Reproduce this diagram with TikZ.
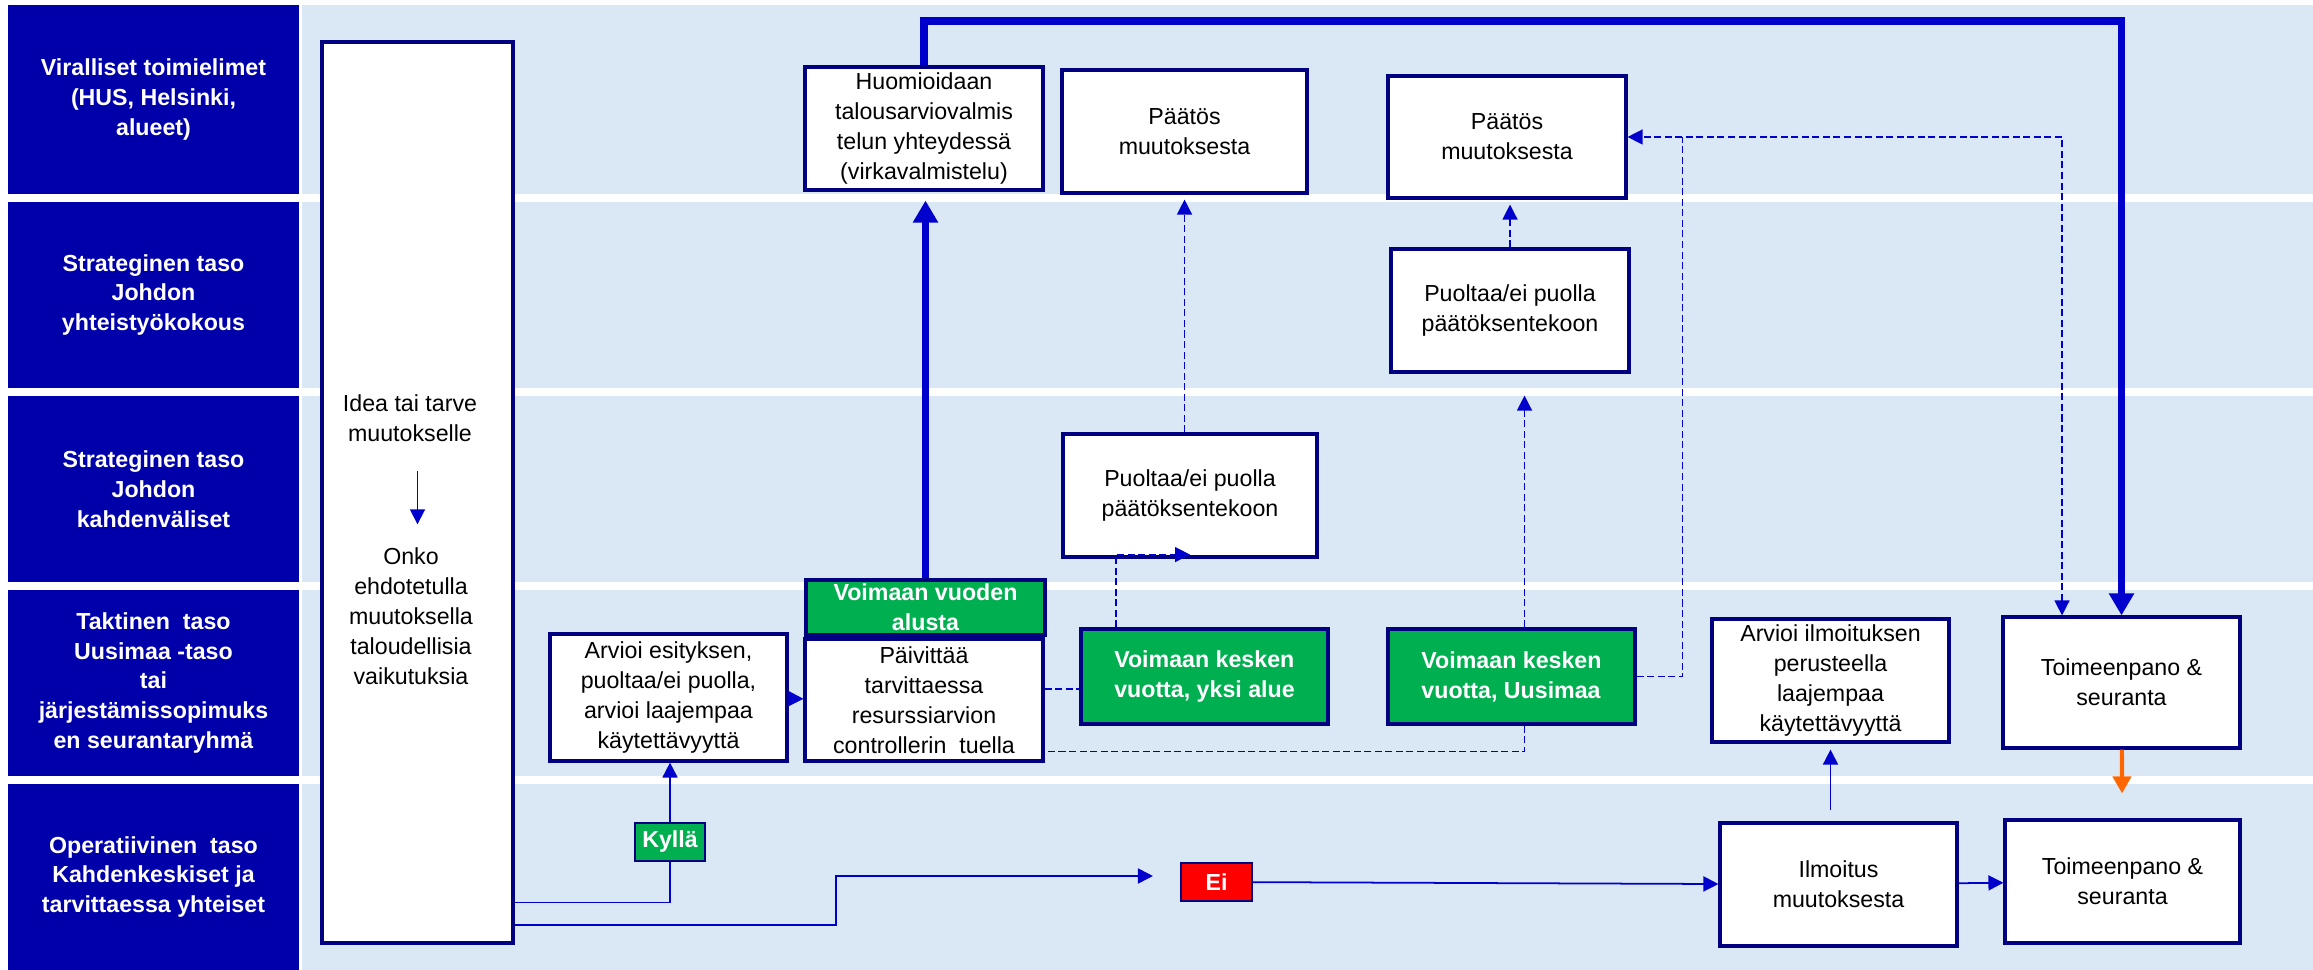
\documentclass[tikz,border=0pt]{standalone}
\usepackage{fontspec}
\setmainfont{Liberation Sans}
\usetikzlibrary{arrows.meta,positioning}
\definecolor{lanelabel}{HTML}{0000AA}
\definecolor{lanefill}{HTML}{DAE8F6}
\definecolor{boxline}{HTML}{000080}
\definecolor{flowblue}{HTML}{0000CC}
\definecolor{boxgreen}{HTML}{00B050}
\definecolor{boxred}{HTML}{FF0000}
\definecolor{floworange}{HTML}{FF6600}
\newcommand\boxfont{\fontsize{6.6}{8.5}\selectfont}
\tikzset
{
    process/.style   = {rectangle, draw=boxline, line width=0.9pt, fill=white, align=center, inner sep=0pt, font=\boxfont, minimum width=23.8mm, minimum height=12.3mm},
    greenbox/.style  = {process, fill=boxgreen, text=white, font=\boxfont\bfseries},
    flagbox/.style   = {process, line width=0.6pt, text=white, font=\boxfont\bfseries, minimum width=7mm, minimum height=3.8mm},
    lanetext/.style  = {text=white, align=center, font=\boxfont\bfseries},
    link/.style      = {draw=flowblue, line width=0.5pt},
    flow/.style      = {link, ->, >={Triangle[length=1.5mm, width=1.5mm]}},
    dashline/.style  = {link, line width=0.4pt, dash pattern=on 2pt off 1pt},
    dashflow/.style  = {flow, line width=0.4pt, dash pattern=on 2pt off 1pt},
    mainflow/.style  = {draw=flowblue, line width=2pt, ->, >={Triangle[length=2.2mm, width=2.4mm]}}
}
\begin{document}
\begin{tikzpicture}[x=0.1mm, y=-0.1mm]
   \useasboundingbox (0,0) rectangle (2313,970);

   \foreach \i/\ya/\yb/\txt in {1/5/194/{Viralliset toimielimet\\(HUS, Helsinki,\\alueet)},
                                2/202/388/{Strateginen taso\\Johdon\\yhteistyökokous},
                                3/396/582/{Strateginen taso\\Johdon\\kahdenväliset},
                                4/590/776/{Taktinen~ taso\\Uusimaa -taso\\tai\\järjestämissopimuks\\en seurantaryhmä},
                                5/784/970/{Operatiivinen~ taso\\Kahdenkeskiset ja\\tarvittaessa yhteiset}}
   {
      \fill[lanefill] (302,\ya) rectangle (2313,\yb);
      \fill[lanelabel] (8,\ya) rectangle (299,\yb);
      \node (lane\i) [lanetext] at (153.5,{(\ya+\yb)/2}) {\txt};
   }

   \node (idea)    [process, minimum width=19.1mm, minimum height=90.1mm] at (417.5,492.5) {};
   \node (ideatxt) [font=\boxfont, align=center] at (410,418) {Idea tai tarve\\muutokselle};
   \node (onko)    [font=\boxfont, align=center] at (411,616) {Onko\\ehdotetulla\\muutoksella\\taloudellisia\\vaikutuksia};

   \node (huom)    [process]                                           at (924,128.5)    {Huomioidaan\\talousarviovalmis\\telun yhteydessä\\(virkavalmistelu)};
   \node (paatos1) [process, minimum width=24.5mm]                     at (1184.5,131.5) {Päätös\\muutoksesta};
   \node (paatos2) [process, minimum height=12.2mm]                    at (1507,137)     {Päätös\\muutoksesta};
   \node (puol2)   [process]                                           at (1510,310.5)   {Puoltaa/ei puolla\\päätöksentekoon};
   \node (puol1)   [process, minimum width=25.4mm]                     at (1190,495.5)   {Puoltaa/ei puolla\\päätöksentekoon};
   \node (alusta)  [greenbox, minimum width=23.9mm, minimum height=5.5mm] at (925.5,607.5) {Voimaan vuoden\\alusta};
   \node (arvioi)  [process, minimum width=23.7mm, minimum height=12.7mm] at (668.5,697.5) {Arvioi esityksen,\\puoltaa/ei puolla,\\arvioi laajempaa\\käytettävyyttä};
   \node (paiv)    [process, minimum height=12.2mm]                    at (924,700)      {Päivittää\\tarvittaessa\\resurssiarvion\\controllerin~ tuella};
   \node (yksi)    [greenbox, align=left, minimum width=24.7mm, minimum height=9.5mm] at (1204.5,676.5) {Voimaan kesken\\vuotta, yksi alue};
   \node (uusimaa) [greenbox, align=left, minimum width=24.7mm, minimum height=9.5mm] at (1511.5,676.5) {Voimaan kesken\\vuotta, Uusimaa};
   \node (arvioi2) [process, minimum width=23.7mm]                     at (1830.5,680.5) {Arvioi ilmoituksen\\perusteella\\laajempaa\\käytettävyyttä};
   \node (toim1)   [process, minimum width=23.7mm, minimum height=13.1mm] at (2121.5,682.5) {Toimeenpano \&\\seuranta};
   \node (ilm)     [process, minimum width=23.7mm]                     at (1838.5,884.5) {Ilmoitus\\muutoksesta};
   \node (toim2)   [process, minimum width=23.5mm]                     at (2122.5,881.5) {Toimeenpano \&\\seuranta};
   \node (kylla)   [flagbox, fill=boxgreen]                            at (670,842)      {Kyllä};
   \node (ei)      [flagbox, fill=boxred, minimum width=7.1mm]         at (1216.5,882)   {Ei};

   \coordinate (eiturn)   at (836,925);
   \coordinate (topline)  at (toim1.north |- 0,21);
   \coordinate (yksiup)   at ([xshift=-8.85mm]yksi.north);
   \coordinate (uuup)     at ([xshift=1.3mm]uusimaa.north);
   \coordinate (uudown)   at ([xshift=1.3mm]uusimaa.south);
   \coordinate (paivmid)  at ([yshift=1.1mm]paiv.east);
   \coordinate (uuright)  at ([xshift=5.5mm]paatos2.east);
   \coordinate (toimdash) at ([xshift=-5.95mm]toim1.north);

   \draw[flow, shorten <=1.7mm, shorten >=1.1mm] (ideatxt.south -| idea.north) -- (onko.north -| idea.north);
   \draw[link] ([yshift=4.2mm]idea.south east) -| (kylla.south);
   \draw[flow] (kylla.north) -- (kylla.north |- arvioi.south);
   \draw[flow, shorten >=2.7mm] (idea.east |- eiturn) -- (eiturn) |- ([yshift=0.6mm]ei.west);
   \draw[flow] (ei) -- (ilm);
   \draw[flow] (ilm) -- (toim2);
   \draw[flow, shorten <=1.1mm, shorten >=0.6mm] (arvioi2.south |- ilm.north) -- (arvioi2.south);
   \draw[flow] (arvioi) -- (paiv);
   \draw[flow, draw=floworange, line width=1.2pt, >={Triangle[length=1.7mm, width=1.8mm]}, shorten >=2.5mm] (toim1) -- (toim2);

   \draw[mainflow, shorten >=0.9mm] (alusta.north) -- (alusta.north |- huom.south);
   \draw[mainflow] (huom.north) |- (topline) -- (toim1.north);

   \draw[dashflow, shorten >=0.5mm] (paatos1.south |- puol1.north) -- (paatos1.south);
   \draw[dashflow, shorten >=0.5mm] (puol2.north) -- (puol2.north |- paatos2.south);
   \draw[dashflow, shorten >=2.2mm] (uuup) -- (uuup |- puol2.south);
   \draw[dashflow] (yksiup) |- ([yshift=0.4mm]puol1.south);
   \draw[dashline] (paivmid) -- (paivmid -| yksi.west);
   \draw[dashline] (uudown) |- ([yshift=1.1mm]paiv.south east);
   \draw[dashline] (uusimaa.east) -| (uuright);
   \draw[dashflow, <->] (toimdash) |- (paatos2.east);
\end{tikzpicture}
\end{document}
